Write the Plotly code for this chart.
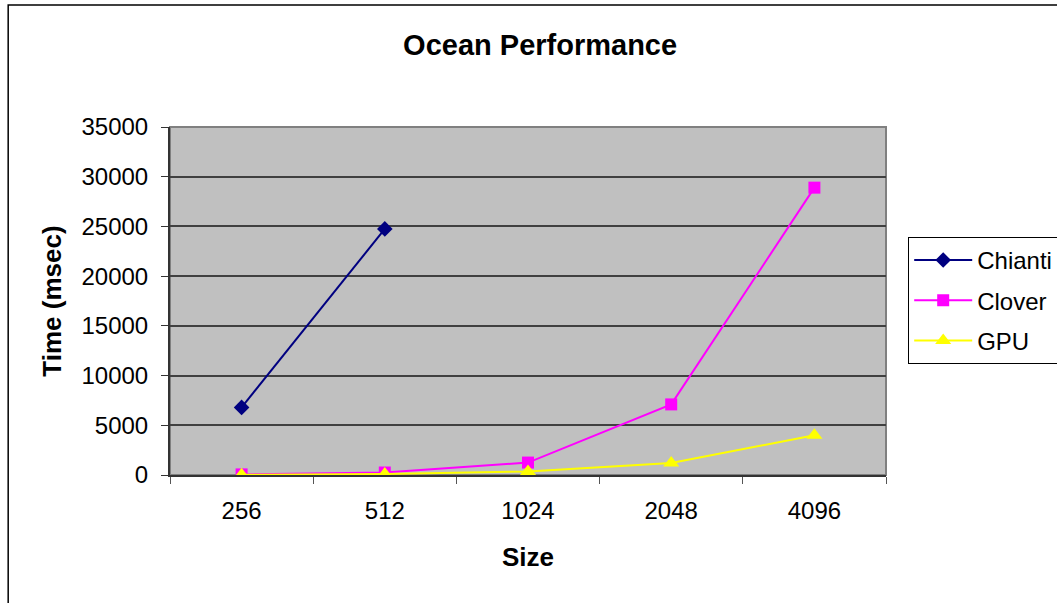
import plotly.graph_objects as go

sizes = ["256", "512", "1024", "2048", "4096"]
chianti = [6800, 24750, None, None, None]
clover = [60, 250, 1250, 7100, 28900]
gpu = [20, 100, 350, 1200, 4000]

fig = go.Figure()
fig.add_trace(go.Scatter(x=sizes, y=chianti, name="Chianti", mode="lines+markers",
                         line=dict(color="#000080", width=2),
                         marker=dict(symbol="diamond", size=12, color="#000080"),
                         legendgroup="a"))
fig.add_trace(go.Scatter(x=sizes, y=clover, name="Clover", mode="lines+markers",
                         line=dict(color="#FF00FF", width=2),
                         marker=dict(symbol="square", size=12, color="#FF00FF"),
                         legendgroup="b"))
fig.add_trace(go.Scatter(x=sizes, y=gpu, name="GPU", mode="lines+markers",
                         line=dict(color="#FFFF00", width=2),
                         marker=dict(symbol="triangle-up", size=14, color="#FFFF00"),
                         legendgroup="c"))

font = "Liberation Sans, Arial, sans-serif"
fig.update_layout(
    width=1057, height=603,
    margin=dict(l=170, r=171, t=127, b=128, autoexpand=False),
    paper_bgcolor="white", plot_bgcolor="#C0C0C0",
    font=dict(family=font, size=24, color="black"),
    title=dict(text="<b>Ocean Performance</b>", x=0.511, xanchor="center",
               y=0.925, yanchor="middle", font=dict(size=29)),
    showlegend=True,
    legend=dict(x=1.031, xanchor="left", y=0.684, yanchor="top",
                bordercolor="black", borderwidth=1, bgcolor="white",
                font=dict(size=24), traceorder="grouped", tracegroupgap=6,
                itemwidth=58),
    xaxis=dict(type="category", range=[-0.5, 4.5], showgrid=False,
               showline=True, linecolor="#333333", linewidth=2,
               ticks="outside", ticklen=7, tickcolor="#555555", tickson="boundaries",
               ticklabelstandoff=13,
               title=dict(text="<b>Size</b>", font=dict(size=26), standoff=25),
               zeroline=False),
    yaxis=dict(range=[0, 35000], dtick=5000, showgrid=True, gridcolor="#404040",
               gridwidth=1.5, showline=True, linecolor="#333333", linewidth=2,
               ticks="outside", ticklen=7, tickcolor="#333333", zeroline=False,
               tickformat="d", ticklabelstandoff=8,
               title=dict(text="<b>Time (msec)</b>", font=dict(size=26), standoff=12)),
)
# plot area border (right/top gray)
fig.add_shape(type="rect", xref="paper", yref="paper", x0=0, y0=0, x1=1, y1=1,
              line=dict(color="#808080", width=2), layer="below")
# outer chart border
fig.add_shape(type="rect", xref="paper", yref="paper", x0=-0.226, y0=-0.5, x1=1.4, y1=1.3506,
              line=dict(color="black", width=1.5), layer="below")
fig.write_html("out.html", config={"displayModeBar": False},
               post_script="document.body.style.margin='0';")
